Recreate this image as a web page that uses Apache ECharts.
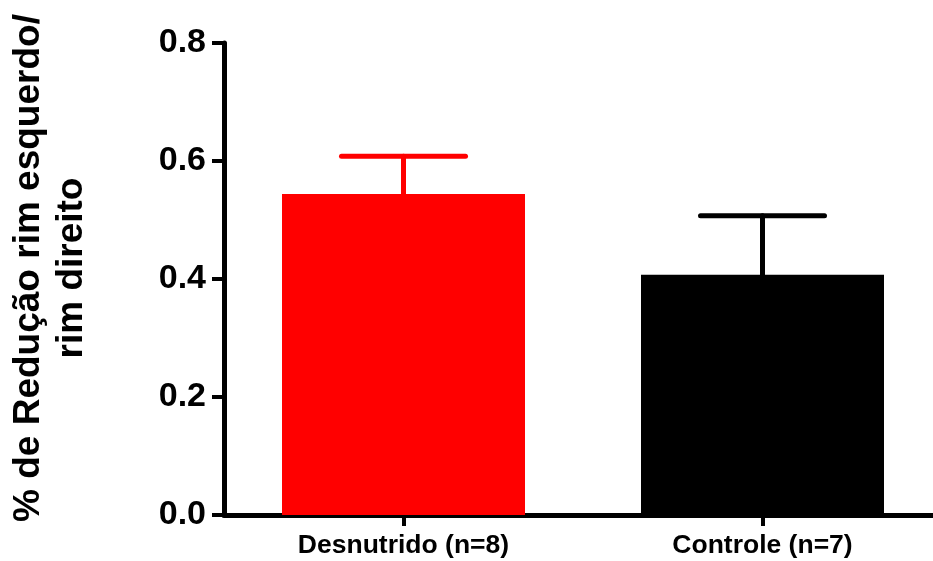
<!DOCTYPE html>
<html>
<head>
<meta charset="utf-8">
<script src="https://cdn.jsdelivr.net/npm/echarts@6/dist/echarts.min.js"></script>
<style>html,body{margin:0;padding:0;background:#fff;overflow:hidden;width:933px;height:561px}#c{width:942px;height:561px}</style>
</head>
<body>
<div id="c"></div>
<script>
var categories = ['Desnutrido (n=8)', 'Controle (n=7)'];
var means = [0.544, 0.407];
var sems = [0.064, 0.100];
var barColors = ['#ff0000', '#000000'];
var yTicks = [0.0, 0.2, 0.4, 0.6, 0.8];
var yTitle = '% de Redução rim esquerdo/\nrim direito';

var FONT = '"Liberation Sans", Arial, Helvetica, sans-serif';
var chart = echarts.init(document.getElementById('c'), null, {renderer: 'canvas'});

var barData = means.map(function (v, i) {
  return {value: v, itemStyle: {color: barColors[i]}};
});
var errData = means.map(function (v, i) { return [i, v, v + sems[i]]; });

chart.setOption({
  animation: false,
  backgroundColor: '#fff',
  grid: {left: 224, right: 0, top: 43, bottom: 46, containLabel: false},
  xAxis: {
    type: 'category',
    data: categories,
    axisLine: {lineStyle: {color: '#000', width: 5}},
    axisTick: {show: true, alignWithLabel: true, length: 11, lineStyle: {color: '#000', width: 4}},
    axisLabel: {color: '#000', fontFamily: FONT, fontWeight: 'bold', fontSize: 26.5, margin: 17}
  },
  yAxis: {
    type: 'value',
    min: 0, max: 0.8, interval: 0.2,
    axisLine: {show: true, lineStyle: {color: '#000', width: 5}},
    axisTick: {show: true, length: 12, lineStyle: {color: '#000', width: 4}},
    splitLine: {show: false},
    axisLabel: {
      color: '#000', fontFamily: FONT, fontWeight: 'bold', fontSize: 34, margin: 18,
      formatter: function (v) { return v.toFixed(1); }
    }
  },
  graphic: [{
    type: 'text',
    x: 50, y: 268,
    rotation: Math.PI / 2,
    style: {
      text: yTitle,
      fill: '#000',
      font: 'bold 37px ' + FONT,
      align: 'center',
      verticalAlign: 'middle',
      lineHeight: 43
    }
  }],
  series: [{
    type: 'bar',
    data: barData,
    barWidth: 243,
    z: 2
  }, {
    type: 'custom',
    data: errData,
    z: 1,
    renderItem: function (params, api) {
      var i = api.value(0);
      var lo = api.coord([i, api.value(1)]);
      var hi = api.coord([i, api.value(2)]);
      var half = 62;
      var col = barColors[params.dataIndex];
      var st = {stroke: col, lineWidth: 5, lineCap: 'round'};
      return {
        type: 'group',
        children: [
          {type: 'line', shape: {x1: lo[0], y1: lo[1], x2: hi[0], y2: hi[1]}, style: st},
          {type: 'line', shape: {x1: hi[0] - half, y1: hi[1], x2: hi[0] + half, y2: hi[1]}, style: st}
        ]
      };
    }
  }]
});
</script>
</body>
</html>
